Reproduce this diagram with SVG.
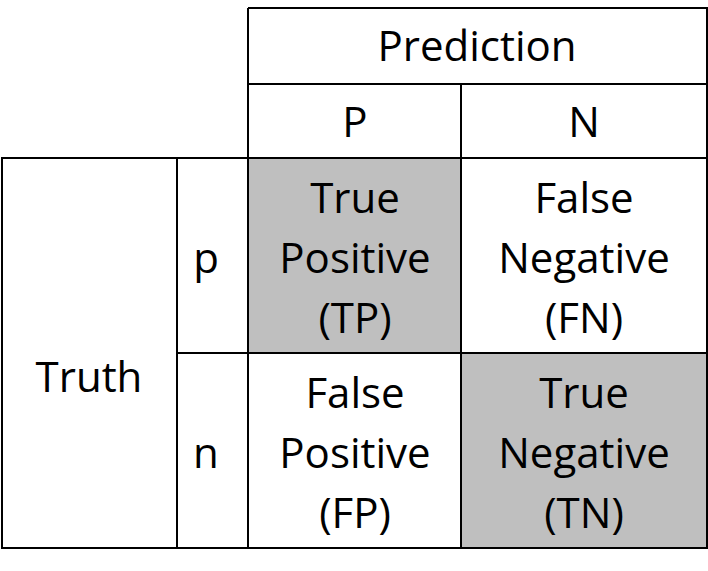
<svg xmlns="http://www.w3.org/2000/svg" width="708" height="571" viewBox="0 0 708 571">
<style>
.l{stroke:#000;stroke-width:2;fill:none}
.g{fill:#bfbfbf}
text{font-family:"Open Sans","Liberation Sans",sans-serif;font-size:42px;fill:#000;text-anchor:middle}
</style>
<rect width="708" height="571" fill="#fff"/>
<rect class="g" x="248" y="158" width="213" height="195"/>
<rect class="g" x="461" y="353" width="246" height="195"/>
<g id="grid">
<path class="l" d="M248 8H707V548H2V158H707M248 8V548M248 84H707M461 84V548M177 158V548M177 353H707"/>
</g>
<g id="header">
<text x="477" y="61">Prediction</text>
<text x="355" y="137">P</text>
<text x="584" y="137">N</text>
</g>
<g id="truth">
<text x="89" y="392">Truth</text>
<text x="206" y="273">p</text>
<text x="206" y="468">n</text>
</g>
<g id="tp"><text x="355" y="213">True</text><text x="355" y="273">Positive</text><text x="355" y="333">(TP)</text></g>
<g id="fn"><text x="584" y="213">False</text><text x="584" y="273">Negative</text><text x="584" y="333">(FN)</text></g>
<g id="fp"><text x="355" y="408">False</text><text x="355" y="468">Positive</text><text x="355" y="528">(FP)</text></g>
<g id="tn"><text x="584" y="408">True</text><text x="584" y="468">Negative</text><text x="584" y="528">(TN)</text></g>
</svg>
